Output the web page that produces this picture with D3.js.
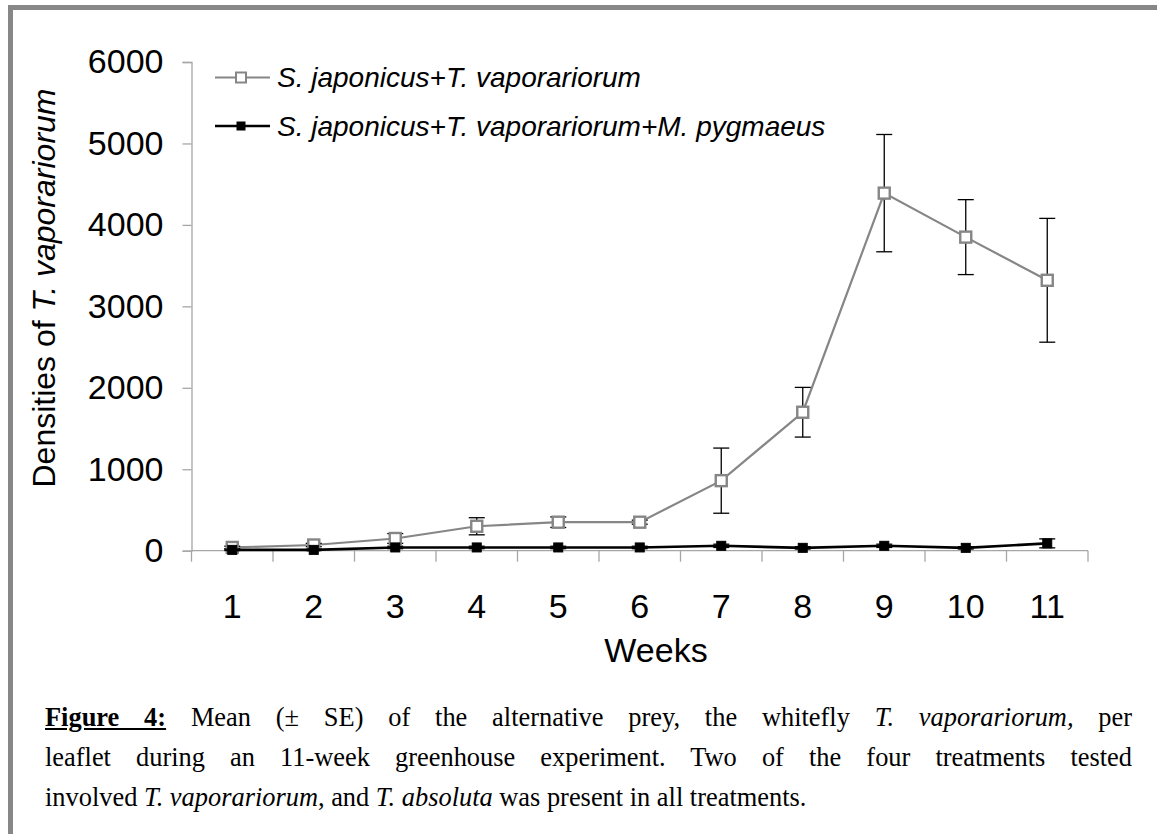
<!DOCTYPE html>
<html>
<head>
<meta charset="utf-8">
<script src="https://cdn.jsdelivr.net/npm/d3@7"></script>
<style>
  html, body { margin: 0; padding: 0; background: #fff; }
  #wrap { position: relative; width: 1157px; height: 834px; overflow: hidden; }
  svg { position: absolute; left: 0; top: 0; }
  .cap {
    position: absolute; left: 45px; width: 1087px;
    font-family: "Liberation Serif", "Times New Roman", serif;
    font-size: 26.4px; color: #000; line-height: 40px;
  }
  .just { text-align: justify; text-align-last: justify; }
  .cap b { text-decoration: underline; }
</style>
</head>
<body>
<div id="wrap">
  <svg id="chart" width="1157" height="834"></svg>
  <div class="cap just" style="top:697px"><b>Figure 4:</b> Mean (± SE) of the alternative prey, the whitefly <i>T. vaporariorum,</i> per</div>
  <div class="cap just" style="top:737px">leaflet during an 11-week greenhouse experiment. Two of the four treatments tested</div>
  <div class="cap" style="top:777px">involved <i>T. vaporariorum</i>, and <i>T. absoluta</i> was present in all treatments.</div>
</div>
<script>
// Weeks of the greenhouse trial
const weeks = [1, 2, 3, 4, 5, 6, 7, 8, 9, 10, 11];
const yTicks = [0, 1000, 2000, 3000, 4000, 5000, 6000];

// S. japonicus + T. vaporariorum : mean and SE per leaflet
const whiteflyMean = [40, 70, 150, 300, 350, 350, 860, 1700, 4390, 3850, 3320];
const whiteflySE   = [15, 20, 60, 105, 65, 25, 400, 305, 720, 460, 760];

// S. japonicus + T. vaporariorum + M. pygmaeus : mean and SE per leaflet
const predatorMean = [10, 10, 40, 40, 40, 40, 60, 35, 60, 35, 90];
const predatorSE   = [8, 8, 15, 15, 15, 15, 20, 15, 20, 15, 55];

const seriesNames = [
  "S. japonicus+T. vaporariorum",
  "S. japonicus+T. vaporariorum+M. pygmaeus"
];

const svg = d3.select("#chart");
const axisColor = "#a6a6a6";
const sansFont = "'Liberation Sans', Arial, sans-serif";

// Frame strips along the top and left edge
svg.append("rect").attr("x", 8).attr("y", 5).attr("width", 1149).attr("height", 5).attr("fill", "#878787");
svg.append("rect").attr("x", 8).attr("y", 5).attr("width", 5).attr("height", 829).attr("fill", "#878787");

const plotLeft = 191.5, plotRight = 1088, plotTop = 62, plotBottom = 550.7;

const x = d3.scaleBand().domain(weeks).range([plotLeft, plotRight]).padding(0);
const y = d3.scaleLinear().domain([0, 6000]).range([plotBottom, plotTop]);
const cx = d => x(d) + x.bandwidth() / 2;

// Y axis
const yAxis = svg.append("g")
  .attr("transform", `translate(${plotLeft},0)`)
  .call(d3.axisLeft(y).tickValues(yTicks).tickSize(9).tickPadding(19).tickFormat(d3.format("d")));
yAxis.select(".domain").attr("stroke", axisColor).attr("stroke-width", 1.3);
yAxis.selectAll(".tick line").attr("stroke", axisColor).attr("stroke-width", 1.3);
yAxis.selectAll(".tick text").attr("font-family", sansFont).attr("font-size", 34).attr("fill", "#000");

// X axis: tick marks sit between the weeks, labels centred on them
const xAxis = svg.append("g").attr("transform", `translate(0,${plotBottom})`);
xAxis.append("line").attr("x1", plotLeft).attr("x2", plotRight).attr("stroke", axisColor).attr("stroke-width", 1.3);
xAxis.selectAll("line.tk").data(weeks.concat(["end"])).join("line")
  .attr("class", "tk")
  .attr("x1", d => d === "end" ? plotRight : x(d))
  .attr("x2", d => d === "end" ? plotRight : x(d))
  .attr("y1", 0).attr("y2", 11)
  .attr("stroke", axisColor).attr("stroke-width", 1.3);
xAxis.selectAll("text").data(weeks).join("text")
  .attr("x", d => cx(d)).attr("y", 67)
  .attr("text-anchor", "middle")
  .attr("font-family", sansFont).attr("font-size", 34).attr("fill", "#000")
  .text(d => d);

// Axis titles
svg.append("text")
  .attr("x", 656).attr("y", 662)
  .attr("text-anchor", "middle")
  .attr("font-family", sansFont).attr("font-size", 34).attr("fill", "#000")
  .text("Weeks");

const yTitle = svg.append("text")
  .attr("transform", "translate(55,288) rotate(-90)")
  .attr("text-anchor", "middle")
  .attr("font-family", sansFont).attr("font-size", 32).attr("fill", "#000");
yTitle.append("tspan").text("Densities of ");
yTitle.append("tspan").attr("font-style", "italic").text("T. vaporariorum");

const line = d3.line().x((d, i) => cx(weeks[i])).y(d => y(d));

function drawSeries(means, ses, opts) {
  const g = svg.append("g");
  g.append("path").datum(means)
    .attr("d", line)
    .attr("fill", "none")
    .attr("stroke", opts.lineColor)
    .attr("stroke-width", opts.lineWidth);
  const eb = g.append("g");
  means.forEach((m, i) => {
    const px = cx(weeks[i]);
    const y1 = y(m + ses[i]), y2 = y(Math.max(0, m - ses[i]));
    eb.append("line").attr("x1", px).attr("x2", px).attr("y1", y1).attr("y2", y2)
      .attr("stroke", "#000").attr("stroke-width", 1.3);
    [y1, y2].forEach(yy => eb.append("line")
      .attr("x1", px - 8).attr("x2", px + 8).attr("y1", yy).attr("y2", yy)
      .attr("stroke", "#000").attr("stroke-width", 1.3));
  });
  g.selectAll("rect.mk").data(means).join("rect")
    .attr("class", "mk")
    .attr("x", (d, i) => cx(weeks[i]) - opts.size / 2)
    .attr("y", d => y(d) - opts.size / 2)
    .attr("width", opts.size).attr("height", opts.size)
    .attr("fill", opts.fill)
    .attr("stroke", opts.markStroke)
    .attr("stroke-width", opts.markWidth);
}

const styleA = { lineColor: "#868686", lineWidth: 2.2, size: 11, fill: "#fff", markStroke: "#868686", markWidth: 2.4 };
const styleB = { lineColor: "#000", lineWidth: 2.6, size: 9, fill: "#000", markStroke: "#000", markWidth: 1 };

drawSeries(whiteflyMean, whiteflySE, styleA);
drawSeries(predatorMean, predatorSE, styleB);

// Legend
const legend = svg.append("g");
[styleA, styleB].forEach((s, i) => {
  const ly = 77.5 + i * 48.5;
  legend.append("line").attr("x1", 215).attr("x2", 270).attr("y1", ly).attr("y2", ly)
    .attr("stroke", s.lineColor).attr("stroke-width", s.lineWidth);
  const sz = i === 0 ? 10 : 8;
  legend.append("rect").attr("x", 241 - sz / 2).attr("y", ly - sz / 2).attr("width", sz).attr("height", sz)
    .attr("fill", s.fill).attr("stroke", s.markStroke).attr("stroke-width", i === 0 ? 2 : 1);
  legend.append("text")
    .attr("x", 277).attr("y", ly + 9.5)
    .attr("font-family", sansFont).attr("font-size", 28).attr("font-style", "italic").attr("fill", "#000")
    .text(seriesNames[i]);
});
</script>
</body>
</html>
